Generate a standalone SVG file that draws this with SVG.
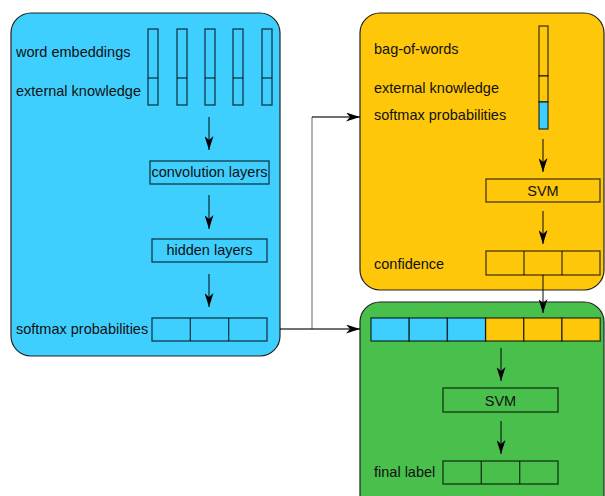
<svg xmlns="http://www.w3.org/2000/svg" width="605" height="496" viewBox="0 0 605 496">
<defs>
<marker id="ah" markerUnits="userSpaceOnUse" viewBox="0 0 14 9" refX="14" refY="4.5" markerWidth="14" markerHeight="9" orient="auto">
<path d="M0,0 L14,4.5 L0,9 L4,4.5 z" fill="#000"/>
</marker>
<style>
text{font-family:"Liberation Sans",Arial,sans-serif;font-size:14.5px;fill:#111}
.panel{stroke:#222;stroke-width:1.2}
.box{fill:none;stroke:#000;stroke-opacity:0.72;stroke-width:1.3}
.fb{fill:#3fcfff;stroke:#000;stroke-opacity:0.72;stroke-width:1.3}
.fo{fill:#ffc70a;stroke:#000;stroke-opacity:0.72;stroke-width:1.3}
.arr{stroke:#000;stroke-opacity:0.75;stroke-width:1.3;fill:none;marker-end:url(#ah)}
.c{text-anchor:middle}
</style>
</defs>
<g id="blue-panel">
<rect class="panel" x="11" y="13" width="269" height="343" rx="20" fill="#3fcfff"/>
<text x="16" y="57">word embeddings</text>
<text x="16" y="96">external knowledge</text>
<g id="word-vectors">
<rect class="box" x="148" y="29" width="10" height="76"/><line class="box" x1="148" y1="78" x2="158" y2="78"/>
<rect class="box" x="177" y="29" width="10" height="76"/><line class="box" x1="177" y1="78" x2="187" y2="78"/>
<rect class="box" x="205" y="29" width="10" height="76"/><line class="box" x1="205" y1="78" x2="215" y2="78"/>
<rect class="box" x="233" y="29" width="10" height="76"/><line class="box" x1="233" y1="78" x2="243" y2="78"/>
<rect class="box" x="262" y="29" width="10" height="76"/><line class="box" x1="262" y1="78" x2="272" y2="78"/>
</g>
<path class="arr" d="M209,117 V150"/>
<g id="conv"><rect class="box" x="150" y="161" width="119" height="23"/><text class="c" x="209.5" y="177">convolution layers</text></g>
<path class="arr" d="M209,195 V229"/>
<g id="hidden"><rect class="box" x="152" y="239" width="115" height="23"/><text class="c" x="209.5" y="255">hidden layers</text></g>
<path class="arr" d="M209,274 V307"/>
<g id="softmax1">
<text x="16" y="334">softmax probabilities</text>
<rect class="box" x="152" y="318" width="115" height="23"/>
<line class="box" x1="190.3" y1="318" x2="190.3" y2="341"/><line class="box" x1="228.7" y1="318" x2="228.7" y2="341"/>
</g>
</g>
<g id="orange-panel">
<rect class="panel" x="360" y="13" width="244" height="277" rx="20" fill="#ffc70a"/>
<text x="374" y="54">bag-of-words</text>
<text x="374" y="93">external knowledge</text>
<text x="374" y="120">softmax probabilities</text>
<rect class="fo" x="539" y="26" width="9" height="50"/>
<rect class="fo" x="539" y="76" width="9" height="26"/>
<rect class="fb" x="539" y="102" width="9" height="27"/>
<path class="arr" d="M543,139 V172"/>
<g id="svm1"><rect class="box" x="486" y="179" width="114" height="23"/><text class="c" x="543" y="196">SVM</text></g>
<path class="arr" d="M543,211 V244"/>
<g id="confidence">
<text x="374" y="269">confidence</text>
<rect class="box" x="486" y="251" width="114" height="24"/>
<line class="box" x1="524" y1="251" x2="524" y2="275"/><line class="box" x1="562" y1="251" x2="562" y2="275"/>
</g>
</g>
<g id="green-panel">
<rect class="panel" x="360" y="302" width="244" height="214" rx="20" fill="#49bf4c"/>
<g id="combined">
<rect class="fb" x="371" y="318" width="38.2" height="23"/>
<rect class="fb" x="409.2" y="318" width="38.2" height="23"/>
<rect class="fb" x="447.4" y="318" width="38.2" height="23"/>
<rect class="fo" x="485.6" y="318" width="38.2" height="23"/>
<rect class="fo" x="523.8" y="318" width="38.2" height="23"/>
<rect class="fo" x="562" y="318" width="38.2" height="23"/>
</g>
<path class="arr" d="M501,348 V381"/>
<g id="svm2"><rect class="box" x="443" y="388" width="115" height="24"/><text class="c" x="500.5" y="406">SVM</text></g>
<path class="arr" d="M501,421 V454"/>
<g id="final">
<text x="374" y="477">final label</text>
<rect class="box" x="443" y="461" width="115" height="23"/>
<line class="box" x1="481.3" y1="461" x2="481.3" y2="484"/><line class="box" x1="519.7" y1="461" x2="519.7" y2="484"/>
</g>
</g>
<g id="connectors">
<path d="M312,329 V117" stroke="#808080" stroke-width="1.2" fill="none"/>
<path class="arr" d="M280,329 H360" stroke-opacity="1"/>
<path class="arr" d="M312,117 H360" stroke-opacity="1"/>
<path class="arr" d="M543,275 V313" stroke-opacity="1"/>
</g>
</svg>
